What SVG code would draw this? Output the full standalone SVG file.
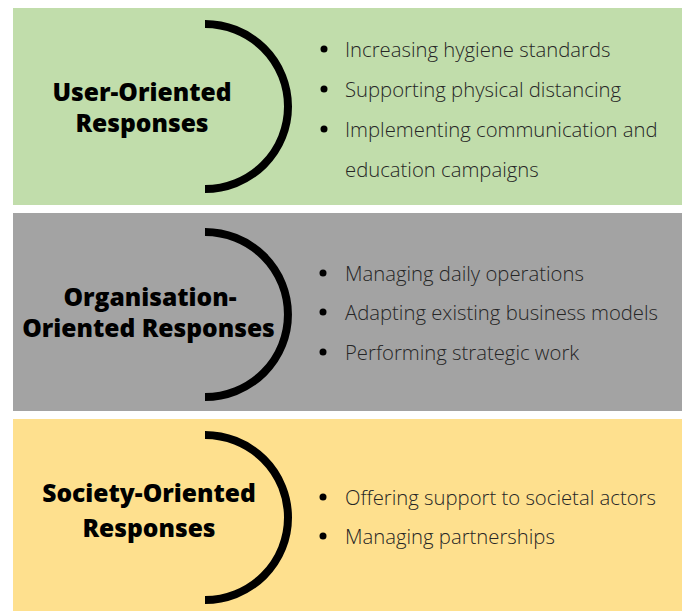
<svg xmlns="http://www.w3.org/2000/svg" width="686" height="611" viewBox="0 0 686 611">
<style>
.title{font-family:"Open Sans","Liberation Sans",sans-serif;font-weight:800;font-size:24.6px;fill:#000;text-anchor:middle}
.item{font-family:"Open Sans","Liberation Sans",sans-serif;font-weight:300;font-size:20.3px;fill:#262626}
.arc{fill:none;stroke:#000;stroke-width:8}
.dot{fill:#000}
</style>
<rect width="686" height="611" fill="#fff"/>
<g id="user">
<rect x="13" y="8" width="669" height="197" fill="#c1ddab"/>
<text class="title" x="142" y="101">User-Oriented</text>
<text class="title" x="142" y="132">Responses</text>
<path class="arc" d="M205,24 A83,82.5 0 0 1 205,189"/>
<circle class="dot" cx="324" cy="49" r="3.5"/>
<text class="item" x="345" y="57">Increasing hygiene standards</text>
<circle class="dot" cx="324" cy="89" r="3.5"/>
<text class="item" x="345" y="97">Supporting physical distancing</text>
<circle class="dot" cx="324" cy="129" r="3.5"/>
<text class="item" x="345" y="137">Implementing communication and</text>
<text class="item" x="345" y="177">education campaigns</text>
</g>
<g id="organisation">
<rect x="13" y="213" width="669" height="198" fill="#a3a3a3"/>
<text class="title" x="150" y="306">Organisation-</text>
<text class="title" x="148.5" y="337">Oriented Responses</text>
<path class="arc" d="M205,232 A83,82.5 0 0 1 205,397"/>
<circle class="dot" cx="323" cy="273" r="3.5"/>
<text class="item" x="345" y="281">Managing daily operations</text>
<circle class="dot" cx="323" cy="312" r="3.5"/>
<text class="item" x="345" y="320">Adapting existing business models</text>
<circle class="dot" cx="323" cy="352" r="3.5"/>
<text class="item" x="345" y="360">Performing strategic work</text>
</g>
<g id="society">
<rect x="13" y="419" width="669" height="192" fill="#fee08e"/>
<text class="title" x="149" y="502">Society-Oriented</text>
<text class="title" x="149" y="537">Responses</text>
<path class="arc" d="M205,435 A83,82.5 0 0 1 205,600"/>
<circle class="dot" cx="323" cy="497" r="3.5"/>
<text class="item" x="345" y="505">Offering support to societal actors</text>
<circle class="dot" cx="323" cy="536" r="3.5"/>
<text class="item" x="345" y="544">Managing partnerships</text>
</g>
<g id="connectors"></g>
</svg>
